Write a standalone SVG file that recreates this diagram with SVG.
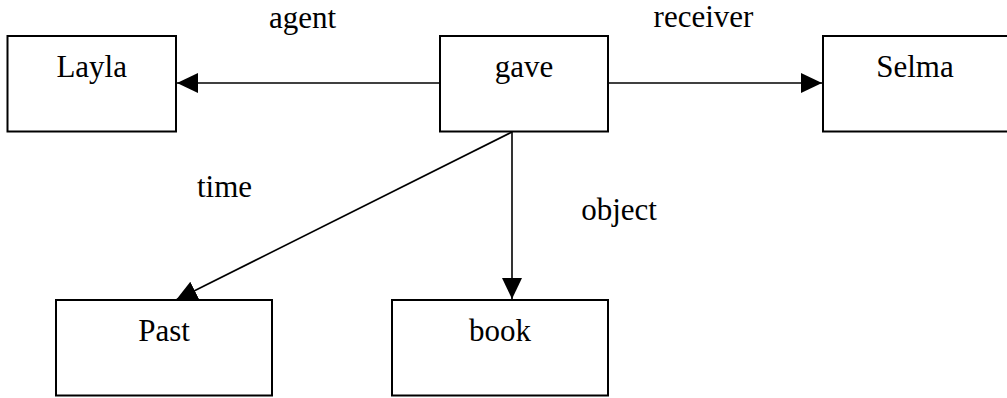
<svg xmlns="http://www.w3.org/2000/svg" width="1007" height="398" viewBox="0 0 1007 398">
<style>
.box{fill:#fff;stroke:#000;stroke-width:2}
.t{font-family:'Liberation Serif','Times New Roman',Times,Tinos,'DejaVu Serif','Noto Serif',serif;font-size:31px;fill:#000;text-anchor:middle}
.c{stroke:#000;stroke-width:1.6;fill:none;marker-end:url(#ah)}
</style>
<defs>
<marker id="ah" markerUnits="userSpaceOnUse" markerWidth="22" markerHeight="22" refX="21" refY="10" orient="auto">
<path d="M0,0 L21,10 L0,20 z" fill="#000"/>
</marker>
</defs>
<rect width="1007" height="398" fill="#fff"/>
<g id="connectors">
<line class="c" x1="440" y1="83" x2="177" y2="83"/>
<line class="c" x1="608" y1="83" x2="822" y2="83"/>
<line class="c" x1="512" y1="132" x2="512" y2="299"/>
<line class="c" x1="512" y1="132" x2="176" y2="300"/>
<text class="t" x="302.5" y="28">agent</text>
<text class="t" x="703.5" y="27">receiver</text>
<text class="t" x="224.5" y="197">time</text>
<text class="t" x="619" y="220">object</text>
</g>
<g id="layla"><rect class="box" x="7.5" y="36" width="168.5" height="95.5"/><text class="t" x="91.7" y="77">Layla</text></g>
<g id="gave"><rect class="box" x="440" y="36" width="168" height="95.5"/><text class="t" x="524" y="77">gave</text></g>
<g id="selma"><rect class="box" x="823" y="36" width="192" height="95.5"/><text class="t" x="915" y="77">Selma</text></g>
<g id="past"><rect class="box" x="56" y="300" width="216" height="95.5"/><text class="t" x="164" y="341">Past</text></g>
<g id="book"><rect class="box" x="392" y="300" width="216" height="95.5"/><text class="t" x="500" y="341">book</text></g>
</svg>
